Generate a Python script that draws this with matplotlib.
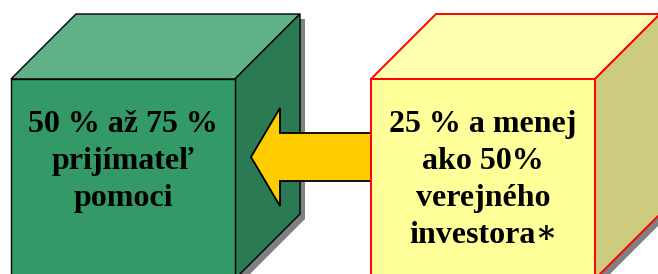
import matplotlib
matplotlib.use("Agg")
import matplotlib.pyplot as plt
from matplotlib.patches import Polygon

# two boxes: who pays what share
labels = ["50 % až 75 %\nprijímateľ\npomoci",
          "25 % a menej\nako 50%\nverejného\ninvestora∗"]
front_cols = ["#339966", "#FFFF99"]
top_cols = ["#5FB187", "#FFFFAD"]
side_cols = ["#2B7A53", "#CCCC80"]
edge_cols = ["black", "#FF0000"]
box_x = [11, 371]

W, H, D = 224, 200, 65
Y0 = 79

fig = plt.figure(figsize=(6.58, 2.74), dpi=100)
ax = fig.add_axes([0, 0, 1, 1])
ax.set_xlim(0, 658)
ax.set_ylim(274, 0)
ax.axis("off")


def cube(x0, fc, tc, sc, ec, z):
    y0 = Y0
    outline = [(x0, y0 + H), (x0, y0), (x0 + D, y0 - D), (x0 + W + D, y0 - D),
               (x0 + W + D, y0 + H - D), (x0 + W, y0 + H)]
    sh = [(x + 5, y + 5) for x, y in outline]
    ax.add_patch(Polygon(sh, closed=True, fc="#808080", ec="none", zorder=z))
    lw = 1.0 if ec == "black" else 1.4
    front = [(x0, y0), (x0 + W, y0), (x0 + W, y0 + H), (x0, y0 + H)]
    top = [(x0, y0), (x0 + D, y0 - D), (x0 + W + D, y0 - D), (x0 + W, y0)]
    side = [(x0 + W, y0), (x0 + W + D, y0 - D), (x0 + W + D, y0 + H - D), (x0 + W, y0 + H)]
    for pts, c in [(top, tc), (side, sc), (front, fc)]:
        ax.add_patch(Polygon(pts, closed=True, fc=c, ec=ec, lw=lw, zorder=z + 1))


cube(box_x[0], front_cols[0], top_cols[0], side_cols[0], edge_cols[0], 1)

# arrow from the yellow box to the green one
arrow = [(371, 133), (280, 133), (280, 108), (251, 157), (280, 206), (280, 181), (371, 181)]
ax.add_patch(Polygon(arrow, closed=True, fc="#FFCC00", ec="black", lw=1.3, zorder=3))

cube(box_x[1], front_cols[1], top_cols[1], side_cols[1], edge_cols[1], 4)

for x0, lab in zip(box_x, labels):
    ax.text(x0 + W / 2, 110, lab, ha="center", va="top", fontsize=23,
            fontweight="bold", family=["Liberation Serif", "DejaVu Serif"],
            linespacing=1.37, zorder=10)

fig.savefig("out.png", dpi=100)
